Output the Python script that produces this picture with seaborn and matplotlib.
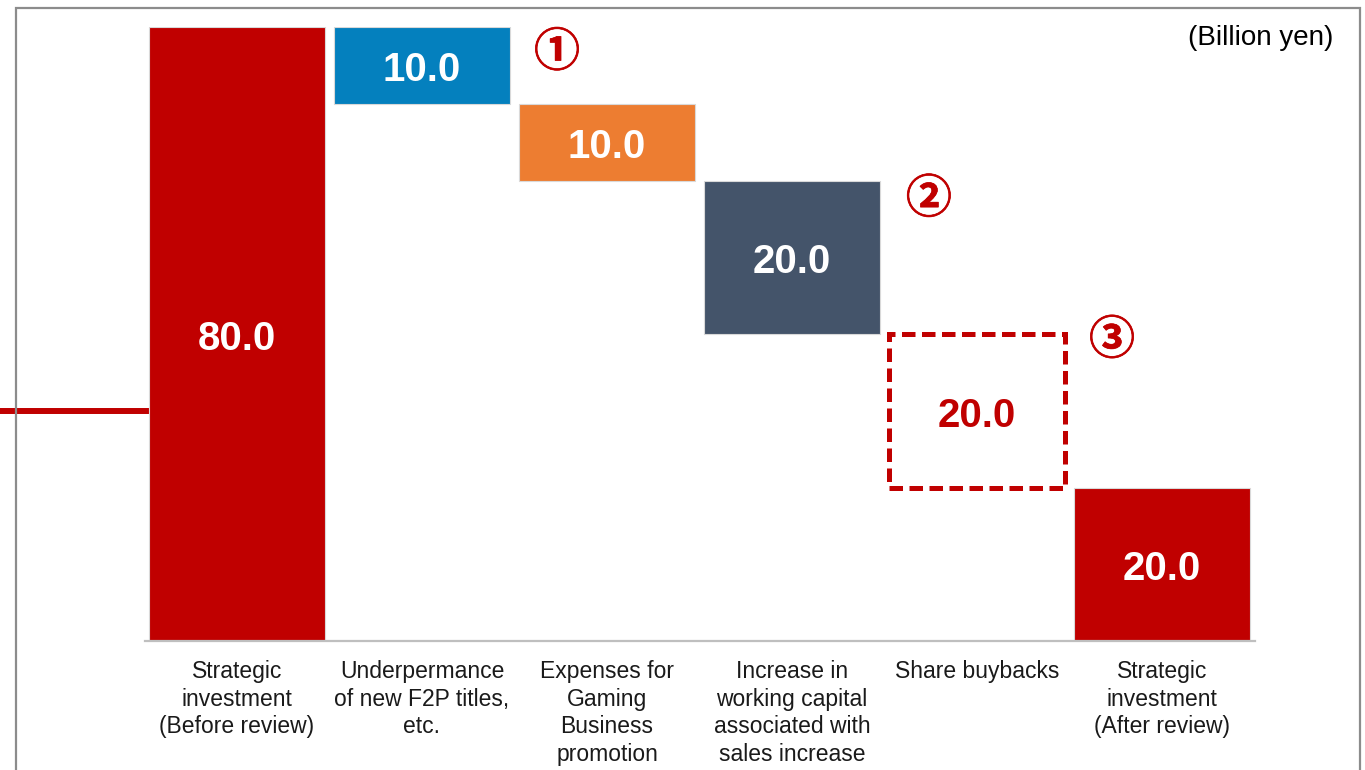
import numpy as np
import pandas as pd
import matplotlib
matplotlib.use('Agg')
import matplotlib.pyplot as plt
import matplotlib.patheffects as pe
from matplotlib.patches import Rectangle
import seaborn as sns

# data
categories = ['Strategic\ninvestment\n(Before review)',
              'Underpermance\nof new F2P titles,\netc.',
              'Expenses for\nGaming\nBusiness\npromotion',
              'Increase in\nworking capital\nassociated with\nsales increase',
              'Share buybacks',
              'Strategic\ninvestment\n(After review)']
values = [80.0, 10.0, 10.0, 20.0, 20.0, 20.0]
bottoms = [0.0, 70.0, 60.0, 40.0, 20.0, 0.0]
colors = ['#C00000', '#0480BE', '#ED7D31', '#44546A', '#FFFFFF', '#C00000']
ref_line = 30.0
marker_text = ['①', '②', '③']
marker_x = [1.73, 3.74, 4.73]
marker_y = [76.6, 57.5, 39.1]

sns.set_theme(style='white')
plt.rcParams['font.family'] = ['Liberation Sans', 'Noto Sans CJK JP', 'DejaVu Sans']

fig = plt.figure(figsize=(13.65, 7.7), dpi=100)
ax = fig.add_axes([144.5 / 1365, 129 / 770, 1110 / 1365, 614 / 770])

df = pd.DataFrame({'cat': categories, 'val': values, 'bottom': bottoms})
sns.barplot(data=df, x='cat', y='val', hue='cat', palette=colors, legend=False,
            saturation=1, width=0.95, edgecolor='#d9d9d9', linewidth=0.8,
            ax=ax, zorder=3)

# move bars to waterfall positions
for p, b, v in zip(ax.patches, bottoms, values):
    p.set_y(b)
    p.set_height(v)

# dashed bar (share buybacks)
dp = ax.patches[4]
dp.set_facecolor('white')
dp.set_edgecolor('#C00000')
dp.set_linestyle((0, (2.7, 1.3)))
dp.set_linewidth(3.6)

# value labels
for i, (b, v) in enumerate(zip(bottoms, values)):
    c = '#C00000' if i == 4 else 'white'
    ax.text(i, b + v / 2 - 0.65, f'{v:.1f}', ha='center', va='center', color=c,
            fontsize=29, fontweight='bold', zorder=5)

# circled numbers
for t, mx, my in zip(marker_text, marker_x, marker_y):
    ax.text(mx, my, t, ha='center', va='center', color='#C00000', fontsize=33,
            fontweight='bold', family=['Noto Sans CJK JP', 'DejaVu Sans'],
            clip_on=False, zorder=5,
            path_effects=[pe.withStroke(linewidth=0.5, foreground='#C00000')])

ax.text(5.924, 78.6, '(Billion yen)', ha='right', va='center', fontsize=20,
        color='black', clip_on=False)

# reference line on left
ax.plot([-1.3, -0.475], [ref_line, ref_line], color='#C00000', lw=4.3,
        clip_on=False, zorder=2, solid_capstyle='butt')

ax.set_xlim(-0.5, 5.5)
ax.set_ylim(0, 80)
ax.set_xlabel('')
ax.set_ylabel('')
ax.set_yticks([])
ax.tick_params(axis='x', length=0, pad=14, labelsize=16.5, colors='#1a1a1a')
for lab in ax.get_xticklabels():
    lab.set_linespacing(1.25)
for s in ['top', 'left', 'right']:
    ax.spines[s].set_visible(False)
ax.spines['bottom'].set_color('#bfbfbf')
ax.spines['bottom'].set_linewidth(1.6)
ax.spines['bottom'].set_zorder(4)
ax.patch.set_alpha(0)

# outer frame
fig.add_artist(Rectangle((16 / 1365, -0.1), 1344 / 1365, 762 / 770 + 0.1,
                         transform=fig.transFigure, fill=False,
                         edgecolor='#8c8c8c', linewidth=1.6))

fig.savefig('out.png', dpi=100)
